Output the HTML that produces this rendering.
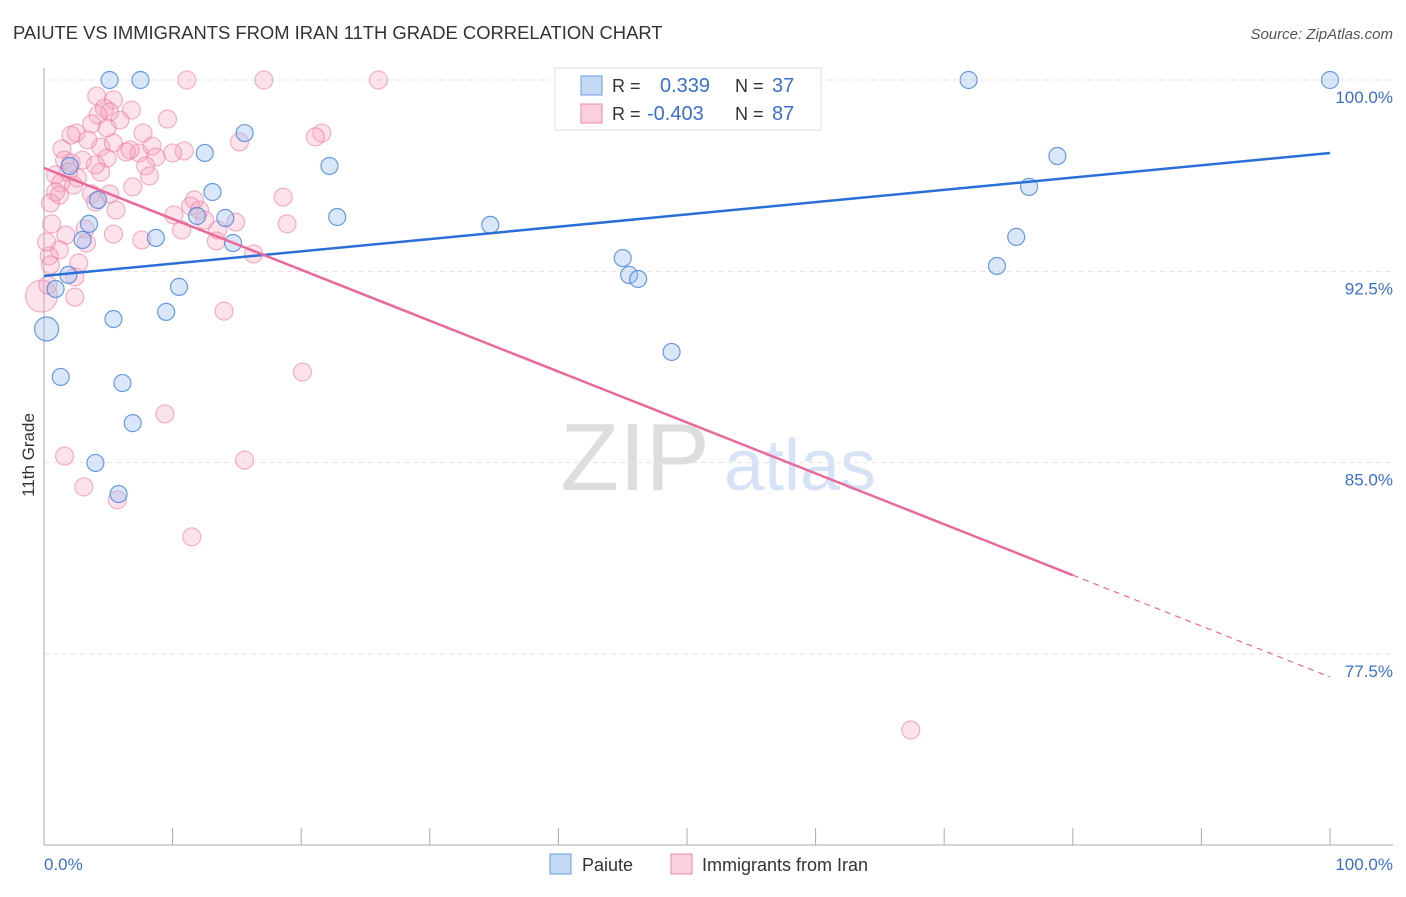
<!DOCTYPE html>
<html><head><meta charset="utf-8"><style>
body{margin:0;background:#fff;font-family:"Liberation Sans",sans-serif;}
svg text{font-family:"Liberation Sans",sans-serif;}
</style></head><body>
<svg id="c" width="1406" height="892">
<text x="13" y="39" font-size="18.4" fill="#333">PAIUTE VS IMMIGRANTS FROM IRAN 11TH GRADE CORRELATION CHART</text>
<text x="1393" y="39" font-size="15" fill="#555" text-anchor="end" font-style="italic">Source: ZipAtlas.com</text>
<text x="34" y="455" font-size="17" fill="#333" transform="rotate(-90 34 455)" text-anchor="middle">11th Grade</text>
<g><text x="635" y="490" font-size="96" fill="#ddd" font-family="Liberation Serif" text-anchor="middle">ZIP</text><text x="800" y="490" font-size="72" fill="#d6e2f5" text-anchor="middle">atlas</text></g>
<g id="grid"></g><g id="axes"></g><g id="pts"></g><g id="trend"></g>
<g>
<rect x="555" y="68" width="266" height="62" fill="#fff" stroke="#ddd"/>
<rect x="581" y="76" width="21" height="19" fill="#c5d9f5" stroke="#6a9be0"/>
<rect x="581" y="104" width="21" height="19" fill="#fbd0de" stroke="#ea8aa8"/>
<text x="612" y="92" font-size="18" fill="#333">R = </text><text x="660" y="92" font-size="20" fill="#3a6fd0">0.339</text>
<text x="735" y="92" font-size="18" fill="#333">N = </text><text x="772" y="92" font-size="20" fill="#3a6fd0">37</text>
<text x="612" y="120" font-size="18" fill="#333">R = </text><text x="647" y="120" font-size="20" fill="#3a6fd0">-0.403</text>
<text x="735" y="120" font-size="18" fill="#333">N = </text><text x="772" y="120" font-size="20" fill="#3a6fd0">87</text>
</g>
<g>
<rect x="550" y="854" width="21" height="20" fill="#c5d9f5" stroke="#6a9be0"/>
<text x="582" y="871" font-size="18" fill="#333">Paiute</text>
<rect x="671" y="854" width="21" height="20" fill="#fbd0de" stroke="#ea8aa8"/>
<text x="702" y="871" font-size="18" fill="#333">Immigrants from Iran</text>
</g>
</svg>
<script>
const yTicks=[100,92.5,85,77.5];
const yTickLabels=["100.0%","92.5%","85.0%","77.5%"];
const xTickLabels=["0.0%","100.0%"];
const bluePx=[[110,80],[141,80],[969,80],[1330,80],[244,133],[205,153],[329,166],[1057,156],[70,166],[213,192],[1029,187],[98,200],[89,224],[197,216],[225,218],[337,217],[490,225],[82,240],[156,238],[233,243],[1016,237],[623,258],[997,266],[69,275],[629,275],[638,279],[55,289],[179,287],[166,312],[113,319],[47,329],[672,352],[61,377],[123,383],[133,423],[95,463],[119,494]];
const pinkPx=[[187,80],[264,80],[379,80],[97,96],[113,100],[104,108],[110,112],[132,110],[167,119],[98,115],[91,124],[76,133],[143,133],[71,135],[322,133],[315,137],[240,142],[62,149],[101,147],[88,140],[126,152],[139,153],[152,146],[156,157],[184,151],[173,153],[64,160],[71,163],[107,158],[101,172],[145,166],[83,160],[78,178],[56,175],[61,183],[74,185],[55,192],[133,187],[283,197],[92,194],[109,194],[50,203],[116,210],[174,215],[190,206],[200,210],[182,230],[236,222],[218,230],[287,224],[52,224],[66,235],[85,229],[142,240],[114,234],[59,250],[87,243],[216,241],[254,254],[49,256],[79,263],[75,277],[75,297],[42,296],[224,311],[303,372],[165,414],[64,456],[244,460],[84,487],[117,500],[192,537],[911,730],[46,242],[95,165],[60,195],[150,176],[120,120],[107,128],[130,150],[205,220],[195,200],[50,265],[48,285],[95,202],[68,172],[113,143]];
const blueX=bluePx.map(p=>+((p[0]-44)/12.86).toFixed(1));
const blueY=bluePx.map(p=>+(100-(p[1]-80)/191.33*7.5).toFixed(2));
const pinkX=pinkPx.map(p=>+((p[0]-44)/12.86).toFixed(1));
const pinkY=pinkPx.map(p=>+(100-(p[1]-80)/191.33*7.5).toFixed(2));
const blueTrend=[92.32,97.14];
const pinkTrend=[96.55,76.60];
const X=v=>44+v*12.86, Y=v=>80+(100-v)/7.5*191.33;
const NS="http://www.w3.org/2000/svg";
function mk(t,a,p){const e=document.createElementNS(NS,t);for(const k in a)e.setAttribute(k,a[k]);p.appendChild(e);return e;}
const grid=document.getElementById('grid'),axes=document.getElementById('axes');
yTicks.forEach((v,i)=>{
 const l=mk('line',{x1:44,x2:1393,y1:Y(v),y2:Y(v),stroke:'#e3e3e3','stroke-dasharray':'5,4'},grid);
 
 
 const t=mk('text',{x:1393,y:Y(v)+23,'font-size':17,fill:'#3a6fd0','text-anchor':'end'},axes);t.textContent=yTickLabels[i];
 
 
});
mk('line',{x1:44,x2:44,y1:68,y2:845,stroke:'#aaa'},axes);
mk('line',{x1:44,x2:1393,y1:845,y2:845,stroke:'#aaa'},axes);
for(let i=0;i<=10;i++){mk('line',{x1:X(i*10),x2:X(i*10),y1:828,y2:845,stroke:'#aaa'},axes);}
[[0,'start',44],[1,'end',1393]].forEach(([i,a,x])=>{const t=mk('text',{x:x,y:870,'font-size':17,fill:'#3a6fd0','text-anchor':a},axes);t.textContent=xTickLabels[i];
 
 });
const pts=document.getElementById('pts');
pinkX.forEach((x,i)=>{const r=(pinkPx[i][0]<=42)?16:9;const c=mk('circle',{cx:X(x),cy:Y(pinkY[i]),r:r,fill:'rgba(246,160,190,0.3)',stroke:'rgba(234,120,160,0.55)','stroke-width':1.2},pts);
 
 });
blueX.forEach((x,i)=>{const r=(bluePx[i][0]<=47)?12:8.5;const c=mk('circle',{cx:X(x),cy:Y(blueY[i]),r:r,fill:'rgba(160,195,240,0.4)',stroke:'rgba(70,130,220,0.8)','stroke-width':1.2},pts);
 
 });
const tr=document.getElementById('trend');
const bl=mk('line',{x1:X(0),y1:Y(blueTrend[0]),x2:X(100),y2:Y(blueTrend[1]),stroke:'#2a6fd6','stroke-width':2.5},tr);


const pm=pinkTrend[0]+(pinkTrend[1]-pinkTrend[0])*0.8;
const pl=mk('line',{x1:X(0),y1:Y(pinkTrend[0]),x2:X(80),y2:Y(pm),stroke:'#e8699a','stroke-width':2.5},tr);


const pd=mk('line',{x1:X(80),y1:Y(pm),x2:X(100),y2:Y(pinkTrend[1]),stroke:'#e8699a','stroke-width':1.2,'stroke-dasharray':'6,5'},tr);


</script>
</body></html>
